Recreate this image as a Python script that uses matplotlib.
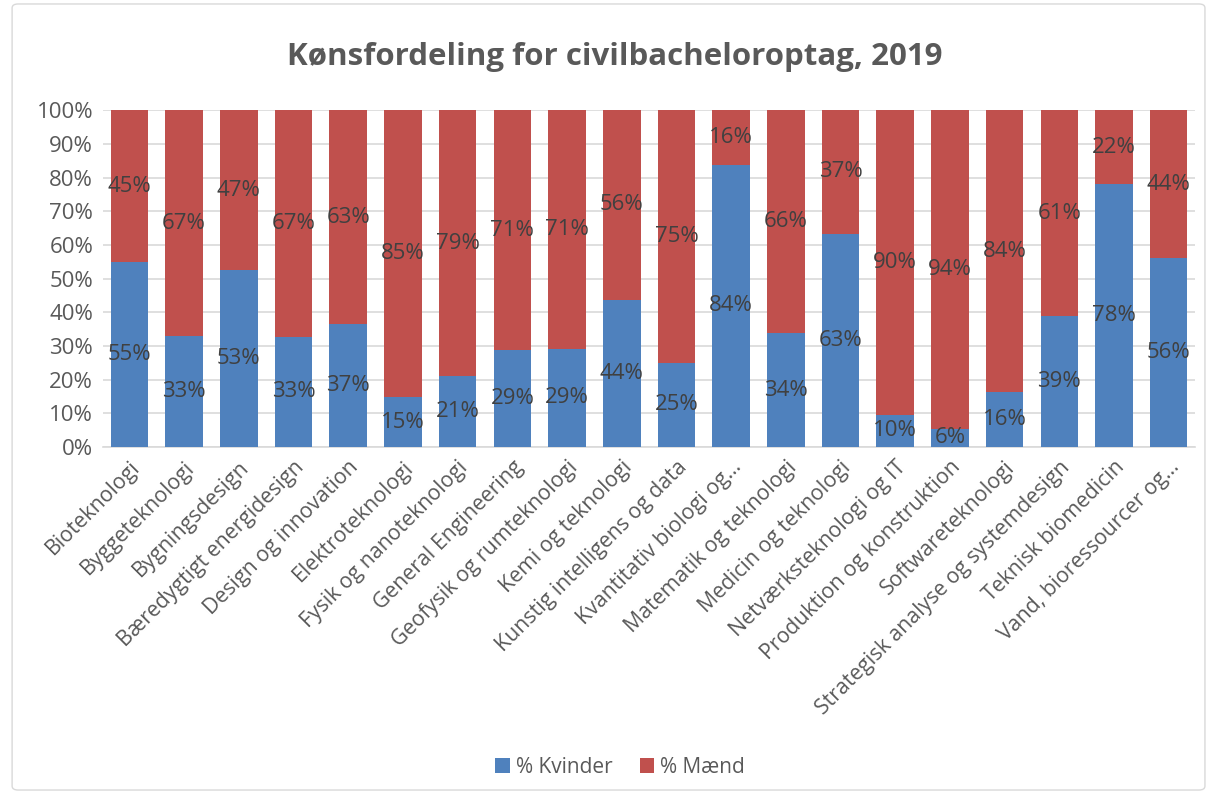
import matplotlib.pyplot as plt
import numpy as np
from matplotlib.patches import FancyBboxPatch

plt.rcParams['font.family'] = ['Open Sans', 'DejaVu Sans']

categories = ["Bioteknologi", "Byggeteknologi", "Bygningsdesign", "Bæredygtigt energidesign",
              "Design og innovation", "Elektroteknologi", "Fysik og nanoteknologi",
              "General Engineering", "Geofysik og rumteknologi", "Kemi og teknologi",
              "Kunstig intelligens og data", "Kvantitativ biologi og...", "Matematik og teknologi",
              "Medicin og teknologi", "Netværksteknologi og IT", "Produktion og konstruktion",
              "Softwareteknologi", "Strategisk analyse og systemdesign", "Teknisk biomedicin",
              "Vand, bioressourcer og..."]
# bar heights (share of women, %)
kvinder = [55.0, 33.0, 52.5, 32.8, 36.6, 14.8, 21.0, 28.8, 29.2, 43.8,
           25.0, 83.8, 33.8, 63.4, 9.6, 5.5, 16.4, 38.8, 78.2, 56.0]
maend = [100 - k for k in kvinder]
# data labels as printed
kvinder_lbl = [55, 33, 53, 33, 37, 15, 21, 29, 29, 44, 25, 84, 34, 63, 10, 6, 16, 39, 78, 56]
maend_lbl = [45, 67, 47, 67, 63, 85, 79, 71, 71, 56, 75, 16, 66, 37, 90, 94, 84, 61, 22, 44]

blue = "#4f81bd"
red = "#c0504d"
grey = "#595959"

fig = plt.figure(figsize=(12.11, 7.94), dpi=100)
ax = fig.add_axes([0.085, 0.437, 0.902, 0.424])

x = np.arange(len(categories))
w = 0.686
b1 = ax.bar(x, kvinder, w, color=blue, label="% Kvinder", zorder=3)
b2 = ax.bar(x, maend, w, bottom=kvinder, color=red, label="% Mænd", zorder=3)

for i in range(len(x)):
    ax.text(x[i], kvinder[i] / 2, f"{kvinder_lbl[i]}%", ha="center", va="center",
            fontsize=16, color="#404040", zorder=4)
    ax.text(x[i], kvinder[i] + maend[i] / 2, f"{maend_lbl[i]}%", ha="center", va="center",
            fontsize=16, color="#404040", zorder=4)

ax.set_xlim(-0.485, len(categories) - 0.515)
ax.set_ylim(0, 100)
ax.set_yticks(np.arange(0, 101, 10))
ax.set_yticklabels([f"{v}%" for v in range(0, 101, 10)], fontsize=16, color=grey)
ax.set_xticks(x)
ax.set_xticklabels(categories, rotation=45, ha="right", rotation_mode="anchor",
                   fontsize=15.3, color=grey)
ax.tick_params(axis="both", length=0, pad=7)
ax.yaxis.grid(True, color="#d9d9d9", lw=1.2, zorder=0)
for s in ["top", "right", "left"]:
    ax.spines[s].set_visible(False)
ax.spines["bottom"].set_color("#d9d9d9")
ax.spines["bottom"].set_linewidth(1.2)

fig.text(0.508, 0.928, "Kønsfordeling for civilbacheloroptag, 2019", ha="center", va="center",
         fontsize=22.5, fontweight="bold", color=grey)

fig.legend(handles=[b1, b2], loc="center", bbox_to_anchor=(0.512, 0.034), ncol=2,
           frameon=False, fontsize=15, labelcolor=grey, handlelength=0.7, handleheight=0.7,
           columnspacing=1.3, handletextpad=0.3)

border = FancyBboxPatch((0.01, 0.005), 0.985, 0.99, boxstyle="round,pad=0,rounding_size=0.005",
                        transform=fig.transFigure, fill=False, edgecolor="#d9d9d9", lw=1)
fig.patches.append(border)

fig.savefig("out.png", dpi=100)
